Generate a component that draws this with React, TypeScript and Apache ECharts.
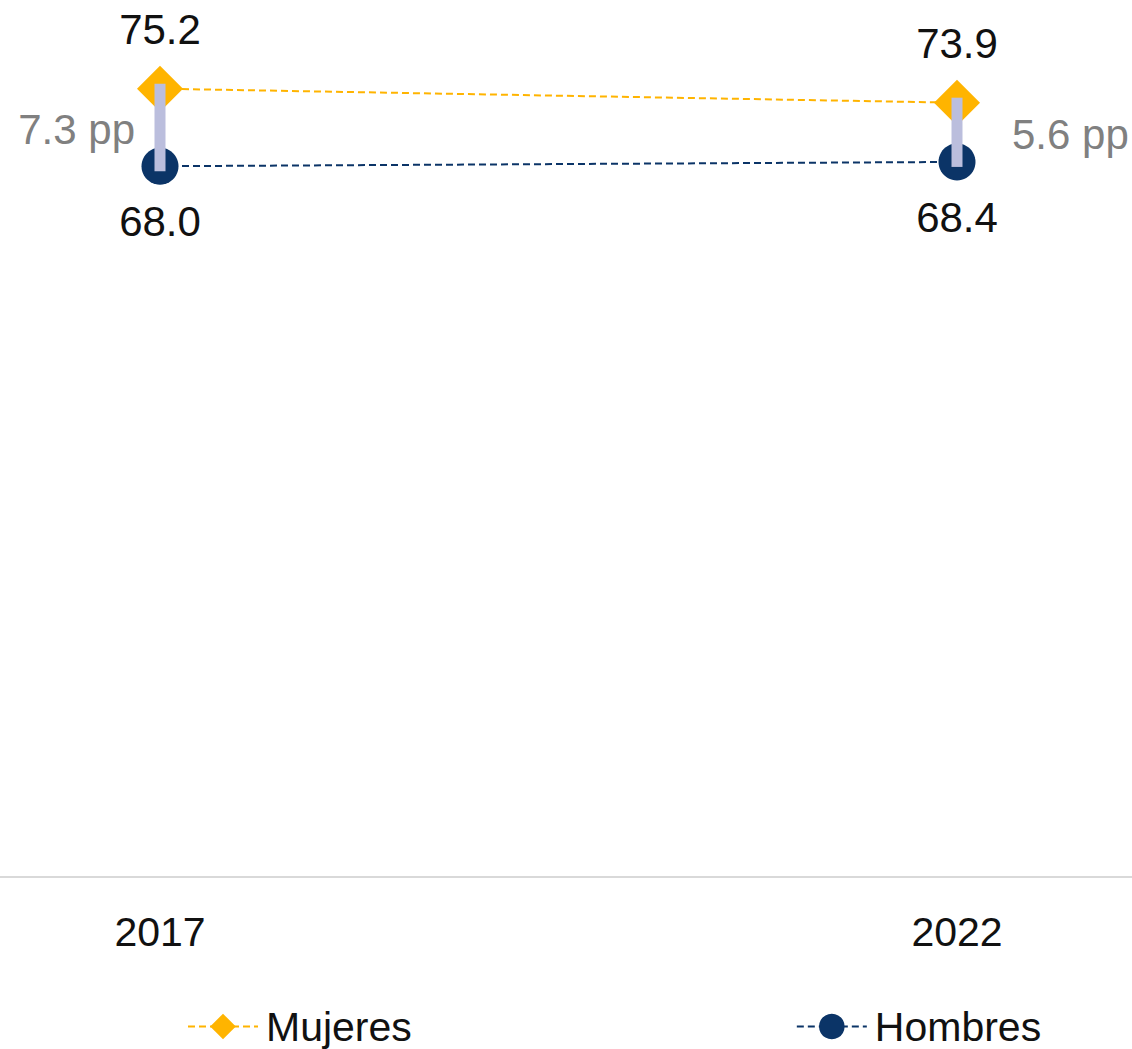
import React, { useEffect, useRef } from "react";
import * as echarts from "echarts";

const years = ["2017", "2022"];
const mujeres = [75.2, 73.9];
const hombres = [68.0, 68.4];
const gapLabels = ["7.3 pp", "5.6 pp"];

const FONT = "'Liberation Sans', Arial, Helvetica, sans-serif";
const ORANGE = "#FFB400";
const NAVY = "#0B3467";
const LAVENDER = "#BBBEDD";

export default function App() {
  const ref = useRef<HTMLDivElement>(null);

  useEffect(() => {
    document.body.style.margin = "0";
    const chart = echarts.init(ref.current!, null, { renderer: "svg" });
    const gapData = years.map((_, i) => [i, hombres[i], mujeres[i]]);

    chart.setOption({
      animation: false,
      textStyle: { fontFamily: FONT },
      grid: [
        { left: 160, right: 175, top: 37, bottom: 172 },
        { left: 0, right: 0, bottom: 172, height: 1 },
      ],
      xAxis: [
        {
          type: "category",
          gridIndex: 0,
          data: years,
          boundaryGap: false,
          axisLine: { show: false },
          axisTick: { show: false },
          axisLabel: { color: "#111", fontSize: 41, fontFamily: FONT, margin: 34 },
          splitLine: { show: false },
        },
        {
          type: "category",
          gridIndex: 1,
          data: [""],
          axisLine: { show: true, lineStyle: { color: "#D9D9D9", width: 2 } },
          axisTick: { show: false },
          axisLabel: { show: false },
        },
      ],
      yAxis: [
        { type: "value", gridIndex: 0, min: 2, max: 80, show: false },
        { type: "value", gridIndex: 1, show: false },
      ],
      legend: {
        data: ["Mujeres", "Hombres"],
        left: 182,
        top: 1001,
        itemWidth: 70,
        itemHeight: 32,
        itemGap: 384,
        textStyle: { fontSize: 41, color: "#111", fontFamily: FONT, padding: [0, 0, 0, 3] },
      },
      series: [
        {
          name: "Mujeres",
          type: "line",
          data: mujeres,
          symbol: "diamond",
          symbolSize: 46,
          itemStyle: { color: ORANGE },
          lineStyle: { color: ORANGE, width: 2, type: [7, 4] },
          label: {
            show: true,
            position: "top",
            distance: 15,
            fontSize: 42,
            color: "#111",
            fontFamily: FONT,
            formatter: (p: any) => Number(p.value).toFixed(1),
          },
          z: 3,
        },
        {
          name: "Hombres",
          type: "line",
          data: hombres,
          symbol: "circle",
          symbolSize: 37,
          itemStyle: { color: NAVY },
          lineStyle: { color: NAVY, width: 2, type: [7, 4] },
          label: {
            show: true,
            position: "bottom",
            distance: 16,
            fontSize: 42,
            color: "#111",
            fontFamily: FONT,
            formatter: (p: any) => Number(p.value).toFixed(1),
          },
          z: 3,
        },
        {
          name: "gap",
          type: "custom",
          data: gapData,
          z: 10,
          renderItem: (params: any, api: any) => {
            const top = api.coord([api.value(0), api.value(2)]);
            const bot = api.coord([api.value(0), api.value(1)]);
            const mid = (top[1] + bot[1]) / 2;
            const isFirst = params.dataIndex === 0;
            return {
              type: "group",
              children: [
                {
                  type: "rect",
                  shape: { x: top[0] - 5.5, y: top[1] - 5, width: 11, height: bot[1] - top[1] + 10 },
                  style: { fill: LAVENDER },
                },
                {
                  type: "text",
                  x: isFirst ? top[0] - 25 : top[0] + 55,
                  y: mid + 2,
                  style: {
                    text: gapLabels[params.dataIndex],
                    fill: "#808080",
                    font: `42px ${FONT}`,
                    align: isFirst ? "right" : "left",
                    verticalAlign: "middle",
                  },
                },
              ],
            };
          },
        },
      ],
    });
    return () => chart.dispose();
  }, []);

  return <div ref={ref} style={{ width: 1132, height: 1049 }} />;
}
